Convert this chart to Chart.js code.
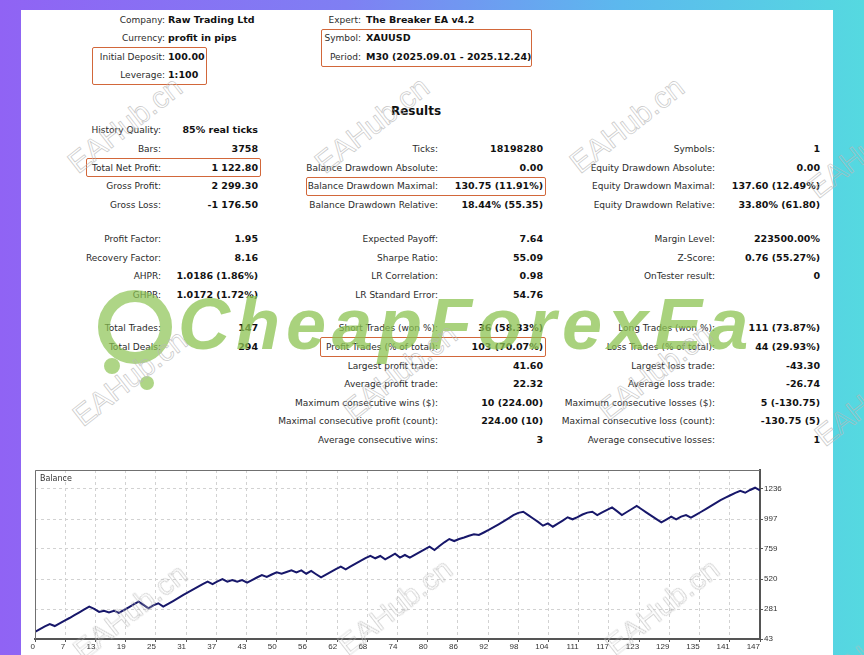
<!DOCTYPE html>
<html>
<head>
<meta charset="utf-8">
<script src="https://cdn.jsdelivr.net/npm/chart.js@4.4.1/dist/chart.umd.min.js"></script>
<style>
  html, body { margin: 0; padding: 0; }
  body {
    width: 864px; height: 655px; overflow: hidden; position: relative;
    background: linear-gradient(90deg, #9063f4 0%, #7f7ff3 40%, #5cb9ee 72%, #55d9e0 100%);
    font-family: "DejaVu Sans", sans-serif;
  }
  #panel { position: absolute; left: 21px; top: 10px; width: 812px; height: 645px; background: #fff; }
  .t { position: absolute; white-space: nowrap; line-height: 12px; }
  .l { font-size: 9px; color: #2b2b2b; }
  .v { font-size: 9.5px; font-weight: bold; color: #111; }
  .box { position: absolute; border: 1.5px solid #d2673a; border-radius: 2px; box-sizing: border-box; }
  #title { position: absolute; left: 366px; width: 100px; top: 104px; text-align: center;
    font-size: 12px; font-weight: bold; color: #111; }
  #chartWrap { position: absolute; left: 20px; top: 455px; width: 800px; height: 200px; }
  .wm { position: absolute; white-space: nowrap; font-family: "Liberation Sans", sans-serif;
    font-size: 30px; color: transparent; -webkit-text-stroke: 0.7px #b9b9b9;
    transform: translate(-50%, -50%) rotate(-38deg); opacity: 0.8; z-index: 5; }
  #brand { position: absolute; left: 178px; top: 284px; font-family: "Liberation Sans", sans-serif;
    font-size: 72px; font-weight: bold; font-style: italic; letter-spacing: 6px;
    color: rgba(140, 195, 82, 0.75); z-index: 4; line-height: 80px; }
  .ring { position: absolute; border-radius: 50%; z-index: 4; }
</style>
</head>
<body>
<div id="panel"></div>
<div id="title">Results</div>
<div id="chartWrap"><canvas id="balanceChart" width="800" height="200"></canvas></div>

<script>
// balance after each trade (0 = initial deposit)
const balance = [
  100, 122, 143, 162, 146, 168, 190, 210, 232, 255,
  278, 300, 282, 258, 268, 255, 268, 250, 272, 295,
  318, 340, 314, 287, 310, 327, 300, 322, 345, 368,
  392, 414, 436, 458, 480, 499, 480, 502, 520, 499,
  512, 499, 512, 491, 512, 532, 552, 536, 556, 573,
  562, 576, 589, 573, 589, 562, 584, 558, 533, 555,
  576, 598, 618, 597, 620, 642, 664, 686, 705, 685,
  703, 677, 699, 721, 690, 711, 690, 712, 734, 756,
  777, 751, 782, 812, 838, 822, 838, 850, 864, 876,
  870, 890, 910, 932, 955, 978, 1003, 1028, 1046, 1055,
  1028, 1001, 974, 944, 963, 936, 960, 985, 1011, 995,
  1012, 1033, 1048, 1055, 1029, 1050, 1070, 1090, 1060, 1029,
  1053, 1077, 1101, 1075, 1048, 1022, 996, 971, 993, 1016,
  995, 1016, 1029, 1008, 1030, 1053, 1076, 1100, 1124, 1148,
  1168, 1186, 1205, 1222, 1206, 1228, 1246, 1225
];
const xTickLabels = ['0','7','13','19','25','31','37','43','50','56','62','68','74','80',
  '86','92','98','104','111','117','123','129','135','141','147'];
const yTickLabels = ['43','281','520','759','997','1236'];
const yMin = 43, yMax = 1387;

// report texts
const headerLeft = [['Company:', 'Raw Trading Ltd'], ['Currency:', 'profit in pips'],
  ['Initial Deposit:', '100.00'], ['Leverage:', '1:100']];
const headerRight = [['Expert:', 'The Breaker EA v4.2'], ['Symbol:', 'XAUUSD'],
  ['Period:', 'M30 (2025.09.01 - 2025.12.24)']];
const headerY = [19.5, 38, 56.5, 75];

const reportRows = [
  [130, ['History Quality:', '85% real ticks'], null, null],
  [149, ['Bars:', '3758'], ['Ticks:', '18198280'], ['Symbols:', '1']],
  [167.5, ['Total Net Profit:', '1 122.80'], ['Balance Drawdown Absolute:', '0.00'], ['Equity Drawdown Absolute:', '0.00']],
  [186, ['Gross Profit:', '2 299.30'], ['Balance Drawdown Maximal:', '130.75 (11.91%)'], ['Equity Drawdown Maximal:', '137.60 (12.49%)']],
  [204.5, ['Gross Loss:', '-1 176.50'], ['Balance Drawdown Relative:', '18.44% (55.35)'], ['Equity Drawdown Relative:', '33.80% (61.80)']],
  [239, ['Profit Factor:', '1.95'], ['Expected Payoff:', '7.64'], ['Margin Level:', '223500.00%']],
  [257.5, ['Recovery Factor:', '8.16'], ['Sharpe Ratio:', '55.09'], ['Z-Score:', '0.76 (55.27%)']],
  [276, ['AHPR:', '1.0186 (1.86%)'], ['LR Correlation:', '0.98'], ['OnTester result:', '0']],
  [294.5, ['GHPR:', '1.0172 (1.72%)'], ['LR Standard Error:', '54.76'], null],
  [328, ['Total Trades:', '147'], ['Short Trades (won %):', '36 (58.33%)'], ['Long Trades (won %):', '111 (73.87%)']],
  [347, ['Total Deals:', '294'], ['Profit Trades (% of total):', '103 (70.07%)'], ['Loss Trades (% of total):', '44 (29.93%)']],
  [365.5, null, ['Largest profit trade:', '41.60'], ['Largest loss trade:', '-43.30']],
  [384, null, ['Average profit trade:', '22.32'], ['Average loss trade:', '-26.74']],
  [402.5, null, ['Maximum consecutive wins ($):', '10 (224.00)'], ['Maximum consecutive losses ($):', '5 (-130.75)']],
  [421, null, ['Maximal consecutive profit (count):', '224.00 (10)'], ['Maximal consecutive loss (count):', '-130.75 (5)']],
  [439.5, null, ['Average consecutive wins:', '3'], ['Average consecutive losses:', '1']]
];
// label right edge, value right edge per column
const cols = [[161, 258], [438, 543], [715, 820]];
const boxes = [[92, 47, 115, 38], [321, 29, 211, 38], [86, 158, 175, 19], [306, 177, 240, 19], [320, 337, 226, 20]];
const marks = [[125, 125], [372, 125], [627, 125], [865, 150], [130, 378], [400, 372], [655, 372], [872, 398],
  [130, 612], [395, 607], [662, 607], [882, 640]];

function addText(cls, txt, y, opts) {
  const d = document.createElement('div');
  d.className = 't ' + cls;
  d.textContent = txt;
  d.style.top = (y - 6) + 'px';
  if (opts.right != null) d.style.right = (864 - opts.right) + 'px';
  if (opts.left != null) d.style.left = opts.left + 'px';
  document.body.appendChild(d);
}
headerLeft.forEach((r, i) => { addText('l', r[0], headerY[i], {right: 165}); addText('v', r[1], headerY[i], {left: 168}); });
headerRight.forEach((r, i) => { addText('l', r[0], headerY[i], {right: 361}); addText('v', r[1], headerY[i], {left: 366}); });
reportRows.forEach(row => {
  for (let c = 0; c < 3; c++) {
    const cell = row[c + 1];
    if (!cell) continue;
    addText('l', cell[0], row[0], {right: cols[c][0]});
    addText('v', cell[1], row[0], {right: cols[c][1]});
  }
});
boxes.forEach(b => {
  const d = document.createElement('div');
  d.className = 'box';
  d.style.left = b[0] + 'px'; d.style.top = b[1] + 'px';
  d.style.width = b[2] + 'px'; d.style.height = b[3] + 'px';
  document.body.appendChild(d);
});

// watermarks
const brand = document.createElement('div');
brand.id = 'brand'; brand.textContent = 'CheapForexEa';
document.body.appendChild(brand);
[[98, 290, 74, 74, 12], [104, 358, 16, 16, 8], [140, 376, 14, 14, 7]].forEach(r => {
  const d = document.createElement('div');
  d.className = 'ring';
  d.style.left = r[0] + 'px'; d.style.top = r[1] + 'px';
  d.style.width = r[2] + 'px'; d.style.height = r[3] + 'px';
  d.style.border = r[4] + 'px solid rgba(140,195,82,0.7)';
  d.style.boxSizing = 'border-box';
  document.body.appendChild(d);
});
marks.forEach(m => {
  const d = document.createElement('div');
  d.className = 'wm'; d.textContent = 'EAHub.cn';
  d.style.left = m[0] + 'px'; d.style.top = m[1] + 'px';
  document.body.appendChild(d);
});

// chart frame + caption
const framePlugin = {
  id: 'frame',
  afterDraw(chart) {
    const {ctx, chartArea: a} = chart;
    ctx.save();
    ctx.strokeStyle = '#707070';
    ctx.lineWidth = 1;
    ctx.beginPath();
    ctx.moveTo(a.left + 0.5, a.bottom);
    ctx.lineTo(a.left + 0.5, a.top + 0.5);
    ctx.lineTo(a.right, a.top + 0.5);
    ctx.stroke();
    ctx.fillStyle = '#333';
    ctx.font = '8px "DejaVu Sans"';
    ctx.textBaseline = 'middle';
    ctx.fillText('Balance', a.left + 5, a.top + 9);
    ctx.restore();
  }
};

const tickFont = {family: '"Liberation Sans", sans-serif', size: 8};

new Chart(document.getElementById('balanceChart').getContext('2d'), {
  type: 'line',
  data: {
    datasets: [{
      data: balance.map((v, i) => ({x: i, y: v})),
      borderColor: '#17176a',
      borderWidth: 2,
      pointRadius: 0,
      tension: 0
    }]
  },
  options: {
    responsive: false,
    animation: false,
    layout: {padding: {left: 15, top: 15, right: 0, bottom: 0}},
    plugins: {legend: {display: false}, tooltip: {enabled: false}},
    scales: {
      x: {
        type: 'linear', min: 0, max: balance.length - 1,
        afterBuildTicks: s => { s.ticks = xTickLabels.map((t, k) => ({value: k * (balance.length - 1) / (xTickLabels.length - 1)})); },
        afterFit: s => { s.height = 16; },
        ticks: {callback: (v, i) => xTickLabels[i], align: 'end', padding: 0, maxRotation: 0,
          autoSkip: false, font: tickFont, color: '#333'},
        grid: {color: '#d2d2d2', tickLength: 3, tickColor: '#555', tickBorderDash: []},
        border: {color: '#555', width: 2, dash: [3, 3]}
      },
      y: {
        position: 'right', min: yMin, max: yMax,
        afterBuildTicks: s => { s.ticks = yTickLabels.map(t => ({value: Number(t)})); },
        afterFit: s => { s.width = 60; },
        ticks: {callback: (v, i) => yTickLabels[i], padding: 1, font: tickFont, color: '#333'},
        grid: {color: '#d2d2d2', tickLength: 3, tickColor: '#555', tickBorderDash: []},
        border: {color: '#555', width: 2, dash: [3, 3]}
      }
    }
  },
  plugins: [framePlugin]
});
</script>
</body>
</html>
